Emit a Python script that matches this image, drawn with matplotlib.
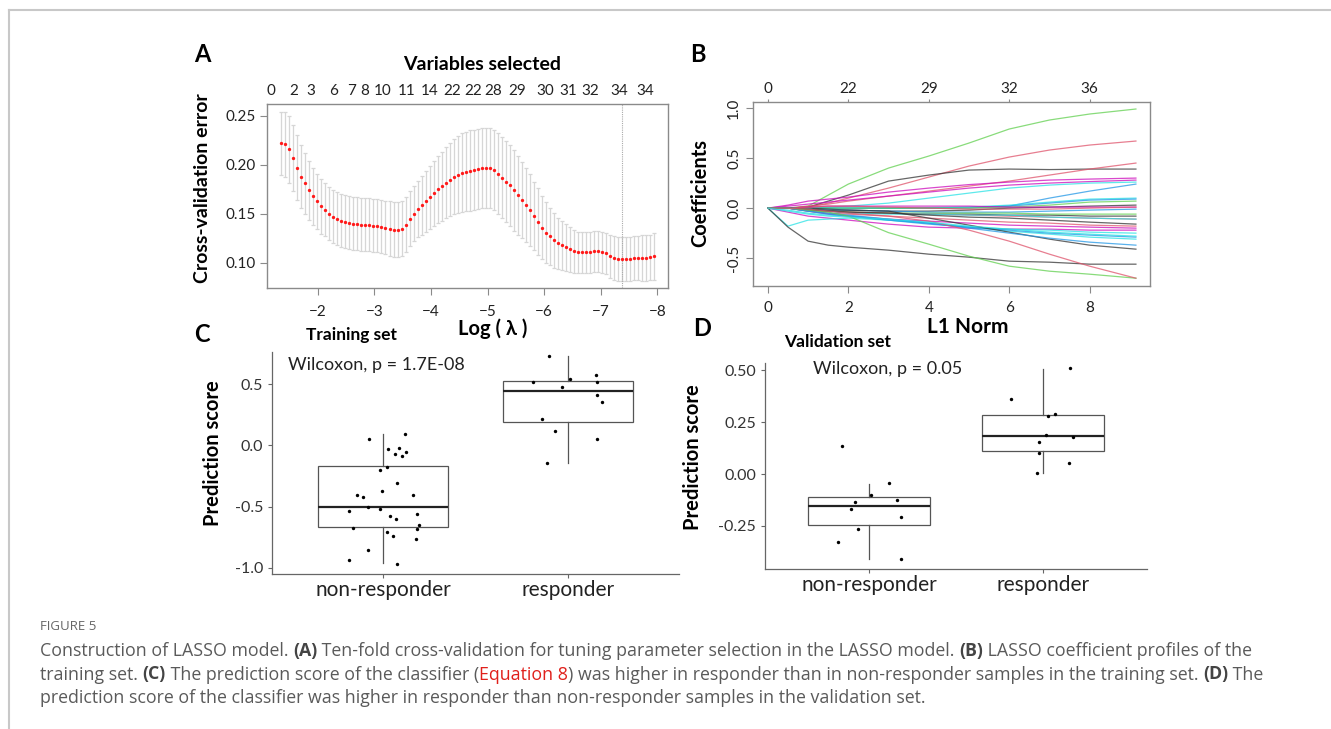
import matplotlib
matplotlib.use("Agg")
import matplotlib.pyplot as plt
import numpy as np
from matplotlib.lines import Line2D

plt.rcParams["font.family"] = ["Lato", "DejaVu Sans"]

W, H = 1331, 729

# ---------------- A: cross-validation (glmnet lambda grid) ----------------
log_lambda = np.linspace(-1.35, -7.95, 94)
cv_mean = [0.222, 0.221, 0.216, 0.207, 0.197, 0.188, 0.181, 0.174, 0.168, 0.163,
           0.158, 0.154, 0.150, 0.147, 0.145, 0.143, 0.142, 0.141, 0.140, 0.140,
           0.139, 0.139, 0.139, 0.138, 0.138, 0.137, 0.136, 0.135, 0.134, 0.134,
           0.135, 0.139, 0.145, 0.150, 0.155, 0.159, 0.163, 0.167, 0.171, 0.175,
           0.178, 0.182, 0.185, 0.188, 0.190, 0.192, 0.193, 0.194, 0.195, 0.196,
           0.197, 0.197, 0.197, 0.195, 0.191, 0.187, 0.183, 0.179, 0.174, 0.169,
           0.164, 0.159, 0.154, 0.148, 0.142, 0.136, 0.131, 0.127, 0.123, 0.120,
           0.118, 0.116, 0.114, 0.112, 0.111, 0.111, 0.111, 0.111, 0.112, 0.112,
           0.111, 0.110, 0.107, 0.105, 0.104, 0.104, 0.104, 0.104, 0.105, 0.105,
           0.105, 0.105, 0.106, 0.107]
cv_sd = [0.032, 0.033, 0.034, 0.034, 0.033, 0.032, 0.031, 0.030, 0.029, 0.028,
         0.028, 0.027, 0.027, 0.027, 0.027, 0.027, 0.027, 0.027, 0.027, 0.027,
         0.027, 0.027, 0.027, 0.027, 0.027, 0.027, 0.027, 0.028, 0.028, 0.028,
         0.028, 0.028, 0.028, 0.028, 0.029, 0.030, 0.031, 0.032, 0.033, 0.034,
         0.035, 0.036, 0.037, 0.038, 0.039, 0.040, 0.040, 0.041, 0.041, 0.041,
         0.041, 0.041, 0.041, 0.041, 0.041, 0.041, 0.041, 0.041, 0.041, 0.040,
         0.039, 0.038, 0.037, 0.035, 0.034, 0.032, 0.031, 0.029, 0.028, 0.026,
         0.025, 0.024, 0.023, 0.022, 0.021, 0.021, 0.021, 0.021, 0.021, 0.021,
         0.021, 0.021, 0.022, 0.022, 0.022, 0.022, 0.022, 0.022, 0.022, 0.022,
         0.023, 0.023, 0.023, 0.024]
nz_pos = [-1.17, -1.58, -1.88, -2.27, -2.60, -2.82, -3.15, -3.57, -3.98,
          -4.37, -4.75, -5.10, -5.52, -6.02, -6.43, -6.82, -7.32, -7.79]
nz_labels = ["0", "2", "3", "6", "7", "8", "10", "11", "14",
             "22", "22", "28", "29", "30", "31", "32", "34", "34"]
lambda_min = -7.37

# ---------------- B: coefficient paths ----------------
l1_norm = [0, 0.5, 1, 1.5, 2, 3, 4, 5, 6, 7, 8, 9.15]
coef_paths = [
    [0, 0, 0.02, 0.13, 0.24, 0.40, 0.52, 0.65, 0.79, 0.88, 0.94, 0.99],
    [0, 0, 0.01, 0.05, 0.10, 0.20, 0.31, 0.42, 0.51, 0.58, 0.63, 0.67],
    [0, 0, 0.01, 0.07, 0.13, 0.27, 0.33, 0.38, 0.39, 0.385, 0.39, 0.39],
    [0, 0, 0.02, 0.04, 0.07, 0.12, 0.17, 0.22, 0.27, 0.33, 0.39, 0.45],
    [0, 0.03, 0.07, 0.09, 0.11, 0.16, 0.20, 0.235, 0.26, 0.28, 0.29, 0.30],
    [0, 0.02, 0.04, 0.06, 0.08, 0.12, 0.16, 0.20, 0.23, 0.25, 0.265, 0.28],
    [0, 0, 0, 0.01, 0.02, 0.05, 0.10, 0.15, 0.20, 0.23, 0.25, 0.26],
    [0, 0, 0, 0, 0, 0, 0.005, 0.01, 0.02, 0.10, 0.17, 0.24],
    [0, 0, 0, 0, 0, 0, 0, 0.01, 0.03, 0.06, 0.09, 0.10],
    [0, 0, 0, 0, 0, 0, 0, 0, 0.02, 0.05, 0.08, 0.09],
    [0, 0, 0, 0, 0, 0, 0, 0, 0.01, 0.03, 0.06, 0.07],
    [0, 0, 0, -0.01, -0.02, -0.03, -0.03, -0.02, 0, 0.01, 0.02, 0.03],
    [0, 0, 0.01, 0.02, 0.02, 0.02, 0.02, 0.02, 0.01, 0.01, 0.01, 0.01],
    [0, 0, 0.01, 0.02, 0.02, 0.01, 0, -0.01, -0.01, -0.01, 0, 0.01],
    [0, 0, -0.01, -0.02, -0.02, -0.03, -0.04, -0.04, -0.04, -0.03, -0.02, -0.01],
    [0, 0, -0.02, -0.03, -0.04, -0.05, -0.06, -0.06, -0.07, -0.07, -0.08, -0.08],
    [0, 0, -0.01, -0.03, -0.04, -0.05, -0.05, -0.05, -0.05, -0.06, -0.06, -0.06],
    [0, 0, -0.02, -0.03, -0.04, -0.05, -0.06, -0.07, -0.08, -0.09, -0.10, -0.11],
    [0, 0, -0.01, -0.03, -0.05, -0.06, -0.06, -0.07, -0.07, -0.09, -0.10, -0.11],
    [0, 0, -0.02, -0.03, -0.04, -0.05, -0.07, -0.09, -0.10, -0.12, -0.14, -0.16],
    [0, 0, -0.03, -0.05, -0.06, -0.08, -0.10, -0.12, -0.14, -0.15, -0.17, -0.18],
    [0, 0, -0.03, -0.06, -0.08, -0.11, -0.13, -0.15, -0.17, -0.18, -0.19, -0.20],
    [0, -0.04, -0.08, -0.10, -0.12, -0.16, -0.19, -0.20, -0.21, -0.21, -0.22, -0.22],
    [0, -0.02, -0.05, -0.07, -0.08, -0.12, -0.15, -0.19, -0.21, -0.22, -0.24, -0.25],
    [0, -0.18, -0.12, -0.11, -0.10, -0.12, -0.15, -0.19, -0.23, -0.26, -0.29, -0.31],
    [0, 0, -0.03, -0.06, -0.08, -0.12, -0.16, -0.19, -0.22, -0.25, -0.27, -0.29],
    [0, 0, -0.01, -0.02, -0.02, -0.03, -0.10, -0.17, -0.24, -0.31, -0.37, -0.41],
    [0, 0, -0.03, -0.05, -0.07, -0.11, -0.15, -0.20, -0.25, -0.30, -0.34, -0.37],
    [0, -0.19, -0.33, -0.37, -0.39, -0.42, -0.46, -0.49, -0.53, -0.54, -0.56, -0.56],
    [0, 0, -0.02, -0.04, -0.08, -0.245, -0.36, -0.48, -0.58, -0.63, -0.66, -0.70],
    [0, 0, -0.01, -0.03, -0.05, -0.08, -0.13, -0.22, -0.33, -0.46, -0.58, -0.70],
    [0, -0.03, -0.06, -0.08, -0.09, -0.11, -0.14, -0.18, -0.21, -0.24, -0.26, -0.28],
]
df_pos = [0, 2, 4, 6, 8]
df_labels = ["0", "22", "29", "32", "36"]

# ---------------- C / D: prediction scores ----------------
groups = ["non-responder", "responder"]
# box stats: (whislo, q1, med, q3, whishi)
train_box = [(-0.962, -0.668, -0.500, -0.168, 0.090),
             (-0.141, 0.188, 0.443, 0.524, 0.728)]
valid_box = [(-0.407, -0.247, -0.154, -0.109, -0.048),
             (0.006, 0.111, 0.183, 0.284, 0.505)]

train_nr_y = [0.052, 0.092, -0.030, -0.019, -0.070, -0.054, -0.087, -0.174, -0.201, -0.310,
              -0.375, -0.402, -0.418, -0.402, -0.500, -0.521, -0.538, -0.576, -0.603, -0.562,
              -0.647, -0.682, -0.671, -0.709, -0.736, -0.763, -0.853, -0.934, -0.964]
train_nr_jit = [-0.074, 0.119, 0.029, 0.086, 0.065, 0.123, 0.104, 0.020, -0.016, 0.077,
                -0.007, -0.142, -0.110, 0.164, -0.079, -0.016, -0.182, 0.038, 0.070, 0.185,
                0.196, 0.182, -0.161, 0.020, 0.056, 0.177, -0.083, -0.182, 0.077]
train_r_y = [0.728, 0.571, 0.519, 0.538, 0.519, 0.478, 0.408, 0.353, 0.212, 0.120, 0.054, -0.141]
train_r_jit = [-0.101, 0.151, -0.188, 0.011, 0.155, -0.034, 0.158, 0.182, -0.142, -0.070, 0.155, -0.115]

valid_nr_y = [0.135, -0.045, -0.101, -0.133, -0.127, -0.167, -0.207, -0.263, -0.328, -0.407]
valid_nr_jit = [-0.157, 0.115, 0.010, -0.084, 0.159, -0.103, 0.182, -0.067, -0.180, 0.182]
valid_r_y = [0.510, 0.359, 0.290, 0.279, 0.188, 0.176, 0.155, 0.100, 0.051, 0.006]
valid_r_jit = [0.159, -0.186, 0.073, 0.027, 0.021, 0.174, -0.021, -0.023, 0.151, -0.036]

caption_lines = [
    [("Construction of LASSO model. ", "normal", "#5a5a5a"), ("(A)", "bold", "#444444"),
     (" Ten-fold cross-validation for tuning parameter selection in the LASSO model. ", "normal", "#5a5a5a"),
     ("(B)", "bold", "#444444"), (" LASSO coefficient profiles of the", "normal", "#5a5a5a")],
    [("training set. ", "normal", "#5a5a5a"), ("(C)", "bold", "#444444"),
     (" The prediction score of the classifier (", "normal", "#5a5a5a"), ("Equation 8", "normal", "#e0201b"),
     (") was higher in responder than in non-responder samples in the training set. ", "normal", "#5a5a5a"),
     ("(D)", "bold", "#444444"), (" The", "normal", "#5a5a5a")],
    [("prediction score of the classifier was higher in responder than non-responder samples in the validation set.",
      "normal", "#5a5a5a")],
]


def box(x0, y0, x1, y1):
    """pixel box (top-left origin) -> figure rect"""
    return [x0 / W, 1 - y1 / H, (x1 - x0) / W, (y1 - y0) / H]


def ftext(x, y, s, **kw):
    return fig.text(x / W, 1 - y / H, s, **kw)


fig = plt.figure(figsize=(W / 100, H / 100), dpi=100)

# frame lines of the page
fig.add_artist(Line2D([9 / W, 1], [1 - 10 / H] * 2, color="#c8c8c8", lw=1.5))
fig.add_artist(Line2D([9 / W] * 2, [1 - 10 / H, 0], color="#c8c8c8", lw=1.5))

frame_col = "#8a8a8a"
tick_kw = dict(labelsize=11, colors="#222222")

# ---- A ----
axA = fig.add_axes(box(267, 104, 668, 288))
axA.errorbar(log_lambda, cv_mean, yerr=cv_sd, fmt="none", ecolor="#d6d6d6",
             elinewidth=0.9, capsize=1.6, capthick=0.9, zorder=1)
axA.plot(log_lambda, cv_mean, "o", color="#ff1a1a", ms=2.4, mew=0, zorder=3)
axA.axvline(lambda_min, color="#aaaaaa", lw=0.8, ls=(0, (1, 1)), zorder=2)
axA.set_xlim(-1.10, -8.19)
axA.set_ylim(0.0745, 0.262)
axA.set_xticks([-2, -3, -4, -5, -6, -7, -8])
axA.set_yticks([0.10, 0.15, 0.20, 0.25])
axA.set_yticklabels(["0.10", "0.15", "0.20", "0.25"])
axA.tick_params(direction="out", length=5, width=0.8, color=frame_col, pad=3, **tick_kw)
axA.tick_params(axis="x", pad=7)
for sp in axA.spines.values():
    sp.set_color(frame_col)
    sp.set_linewidth(1.0)
topA = axA.twiny()
topA.set_xlim(axA.get_xlim())
topA.set_xticks(nz_pos)
topA.set_xticklabels(nz_labels)
topA.tick_params(length=0, pad=4, **tick_kw)
for sp in topA.spines.values():
    sp.set_visible(False)

ftext(202, 55, "A", fontsize=17, fontweight="bold", ha="center", va="center")
ftext(482, 65, "Variables selected", fontsize=14, fontweight="bold", ha="center", va="center")
ftext(202, 188, "Cross-validation error", fontsize=14, fontweight="bold", rotation=90,
      ha="center", va="center")
ftext(493, 329, "Log ( λ )", fontsize=14.5, fontweight="bold", ha="center", va="center")

# ---- B ----
axB = fig.add_axes(box(753, 102, 1150, 286))
path_cols = ["#61D04F", "#DF536B", "#333333", "#DF536B", "#CD0BBC", "#CD0BBC", "#28E2E5", "#2297E6",
             "#28E2E5", "#2297E6", "#61D04F", "#333333", "#CD0BBC", "#DF536B", "#2297E6", "#333333",
             "#61D04F", "#DF536B", "#28E2E5", "#333333", "#DF536B", "#CD0BBC", "#CD0BBC", "#28E2E5",
             "#28E2E5", "#2297E6", "#333333", "#2297E6", "#333333", "#61D04F", "#DF536B", "#28E2E5"]
for vals, col in zip(coef_paths, path_cols):
    axB.plot(l1_norm, vals, color=col, lw=0.9, alpha=0.75)
axB.set_xlim(-0.37, 9.50)
axB.set_ylim(-0.778, 1.06)
axB.set_xticks([0, 2, 4, 6, 8])
axB.set_yticks([-0.5, 0.0, 0.5, 1.0])
axB.set_yticklabels(["-0.5", "0.0", "0.5", "1.0"], rotation=90, va="center")
axB.tick_params(direction="out", length=5, width=0.8, color=frame_col, **tick_kw)
axB.tick_params(axis="x", pad=6)
for sp in axB.spines.values():
    sp.set_color(frame_col)
    sp.set_linewidth(1.0)
topB = axB.twiny()
topB.set_xlim(axB.get_xlim())
topB.set_xticks(df_pos)
topB.set_xticklabels(df_labels)
topB.tick_params(direction="out", length=2, width=0.8, color=frame_col, pad=2, **tick_kw)
for sp in topB.spines.values():
    sp.set_visible(False)

ftext(698, 55, "B", fontsize=17, fontweight="bold", ha="center", va="center")
ftext(700, 193, "Coefficients", fontsize=14.5, fontweight="bold", rotation=90,
      ha="center", va="center")
ftext(968, 327, "L1 Norm", fontsize=15, fontweight="bold", ha="center", va="center")


# ---- C / D ----
def score_panel(rect, stats, pts, ylim, yticks, yticklabels):
    ax = fig.add_axes(rect)
    bstats = [dict(whislo=s[0], q1=s[1], med=s[2], q3=s[3], whishi=s[4], fliers=[]) for s in stats]
    ax.bxp(bstats, positions=[1, 2], widths=0.7, showcaps=False, showfliers=False,
           patch_artist=True,
           boxprops=dict(facecolor="white", edgecolor="#555555", linewidth=0.9),
           whiskerprops=dict(color="#555555", linewidth=0.9),
           medianprops=dict(color="#222222", linewidth=1.6))
    for pos, (jit, yv) in zip([1, 2], pts):
        ax.scatter(pos + np.asarray(jit), yv, s=6, color="black", zorder=4, linewidths=0)
    ax.set_xlim(0.4, 2.6)
    ax.set_ylim(*ylim)
    ax.set_xticks([1, 2])
    ax.set_xticklabels(groups, fontsize=15, color="#222222")
    ax.set_yticks(yticks)
    ax.set_yticklabels(yticklabels)
    ax.tick_params(direction="out", length=3, width=0.8, color="#666666",
                   labelsize=11.5, labelcolor="#333333")
    ax.tick_params(axis="x", labelsize=15, labelcolor="#222222", pad=1)
    for side in ("top", "right"):
        ax.spines[side].set_visible(False)
    for side in ("left", "bottom"):
        ax.spines[side].set_color("#666666")
        ax.spines[side].set_linewidth(0.9)
    return ax


score_panel(box(272, 352, 679, 574), train_box,
            [(train_nr_jit, train_nr_y), (train_r_jit, train_r_y)],
            (-1.049, 0.761), [-1.0, -0.5, 0.0, 0.5], ["-1.0", "-0.5", "0.0", "0.5"])
score_panel(box(765, 363, 1147, 569), valid_box,
            [(valid_nr_jit, valid_nr_y), (valid_r_jit, valid_r_y)],
            (-0.457, 0.534), [-0.25, 0.0, 0.25, 0.50], ["-0.25", "0.00", "0.25", "0.50"])

ftext(202, 335, "C", fontsize=17, fontweight="bold", ha="center", va="center")
ftext(352, 335, "Training set", fontsize=12.5, fontweight="bold", ha="center", va="center")
ftext(213, 453, "Prediction score", fontsize=14.5, fontweight="bold", rotation=90,
      ha="center", va="center")
ftext(288, 365, "Wilcoxon, p = 1.7E-08", fontsize=13, color="#222222", ha="left", va="center")

ftext(702, 328, "D", fontsize=17, fontweight="bold", ha="center", va="center")
ftext(838, 342, "Validation set", fontsize=12.5, fontweight="bold", ha="center", va="center")
ftext(693, 457, "Prediction score", fontsize=14.5, fontweight="bold", rotation=90,
      ha="center", va="center")
ftext(813, 369, "Wilcoxon, p = 0.05", fontsize=13, color="#222222", ha="left", va="center")

# ---- caption ----
ftext(40, 627, "FIGURE 5", fontsize=9.5, color="#666666", ha="left", va="center",
      family=["Open Sans", "DejaVu Sans"])
renderer = fig.canvas.get_renderer()
for row, segs in enumerate(caption_lines):
    x = 40
    y = 651 + row * 23.5
    for s, weight, col in segs:
        t = fig.text(x / W, 1 - y / H, s, fontsize=12.8, fontweight=weight, color=col,
                     ha="left", va="center", family=["Open Sans", "DejaVu Sans"])
        x += t.get_window_extent(renderer).width

fig.savefig("out.png", dpi=100)
